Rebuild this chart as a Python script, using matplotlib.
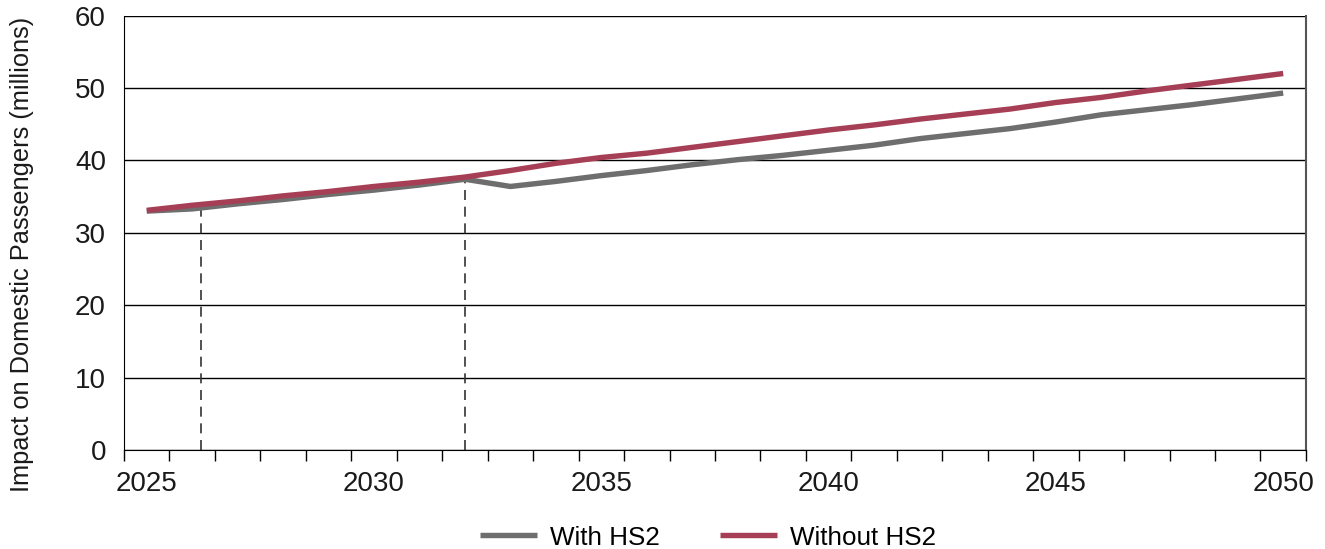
import numpy as np
import matplotlib.pyplot as plt
from matplotlib.ticker import FixedLocator, NullFormatter

plt.rcParams['font.family'] = ['Liberation Sans', 'DejaVu Sans']

years = list(range(2025, 2051))
with_hs2 = [33.0, 33.3, 34.0, 34.6, 35.3, 35.9, 36.6, 37.4, 36.4, 37.1, 37.9, 38.6, 39.4,
            40.1, 40.7, 41.4, 42.1, 43.0, 43.7, 44.4, 45.3, 46.3, 47.0, 47.7, 48.5, 49.3]
without_hs2 = [33.1, 33.8, 34.4, 35.1, 35.7, 36.4, 37.0, 37.7, 38.6, 39.6, 40.4, 41.0, 41.8,
               42.6, 43.4, 44.2, 44.9, 45.7, 46.4, 47.1, 48.0, 48.7, 49.6, 50.4, 51.2, 52.0]
# dashed markers: x position (year) and height
marker_x = [2026.2, 2032]
marker_y = [33.45, 37.4]
year_labels = [2025, 2030, 2035, 2040, 2045, 2050]

grey = '#6e6e6e'
red = '#a63f55'
txt = '#1a1a1a'

fig = plt.figure(figsize=(13.25, 5.49), dpi=100)
ax = fig.add_axes([0.0936, 0.1803, 0.892, 0.7913])

ax.plot(years, with_hs2, color=grey, lw=3.9, label='With HS2', solid_capstyle='butt', zorder=3)
ax.plot(years, without_hs2, color=red, lw=3.9, label='Without HS2', solid_capstyle='butt', zorder=4)
for x, y in zip(marker_x, marker_y):
    ax.plot([x, x], [0, y], color='#333333', lw=1.2, ls=(0, (6, 4)), zorder=2)

ax.set_xlim(2024.5, 2050.5)
ax.set_ylim(0, 60)
ax.set_yticks(np.arange(0, 61, 10))
ax.yaxis.grid(True, color='black', lw=1)
ax.set_axisbelow(True)

ax.set_xticks(year_labels)
ax.set_xticklabels([str(y) for y in year_labels])
ax.xaxis.set_minor_locator(FixedLocator(np.arange(2024.5, 2051, 1)))
ax.xaxis.set_minor_formatter(NullFormatter())
ax.tick_params(axis='x', which='major', length=0, labelsize=20, pad=15, colors=txt)
ax.tick_params(axis='x', which='minor', length=8, width=1, color='black')
ax.tick_params(axis='y', length=0, labelsize=20, pad=13, colors=txt)

ax.spines['top'].set_visible(False)
ax.spines['left'].set_color('black')
ax.spines['bottom'].set_color('black')
ax.spines['right'].set_color('#555555')
ax.spines['right'].set_linewidth(1.5)

ax.set_ylabel('Impact on Domestic Passengers (millions)', fontsize=18.3, color=txt)
ax.yaxis.set_label_coords(-0.076, 0.45)

ax.legend(loc='upper center', bbox_to_anchor=(0.494, -0.12), ncol=2, frameon=False, fontsize=18.7,
          handlelength=2.2, handletextpad=0.5, columnspacing=2.3)

fig.savefig('out.png', dpi=100)
